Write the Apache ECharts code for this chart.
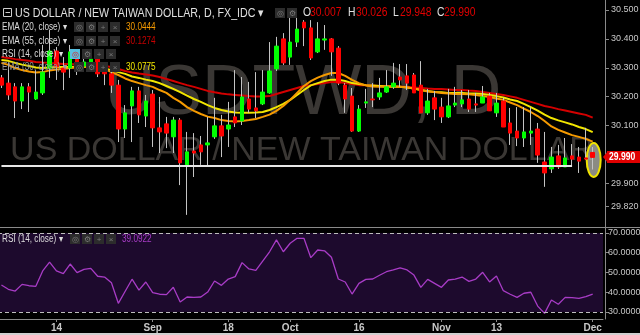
<!DOCTYPE html>
<html><head><meta charset="utf-8">
<script src="https://cdn.jsdelivr.net/npm/echarts@6/dist/echarts.min.js"></script>
<style>html,body{margin:0;padding:0;background:#000;}#c{width:640px;height:335px;}</style>
</head><body><div id="c"></div>
<script>
// ---- data ----
const dates = ['08-02','08-03','08-04','08-07','08-08','08-09','08-10','08-11','08-14','08-15','08-16','08-17','08-18','08-21','08-22','08-23','08-24','08-25','08-28','08-29','08-30','08-31','09-01','09-04','09-05','09-06','09-07','09-08','09-11','09-12','09-13','09-14','09-15','09-18','09-19','09-20','09-21','09-22','09-25','09-26','09-27','09-28','10-02','10-03','10-04','10-05','10-06','10-09','10-10','10-11','10-12','10-13','10-16','10-17','10-18','10-19','10-20','10-23','10-24','10-25','10-26','10-27','10-30','10-31','11-01','11-02','11-03','11-06','11-07','11-08','11-09','11-10','11-13','11-14','11-15','11-16','11-17','11-20','11-21','11-22','11-23','11-24','11-27','11-28','11-29','11-30','12-01'];
const tickLabels = {'08-14':'14','09-01':'Sep','09-18':'18','10-02':'Oct','10-16':'16','11-01':'Nov','11-13':'13','12-01':'Dec'};
// [open, close, low, high]
const ohlc = [
[30.265,30.240,30.230,30.275],[30.247,30.206,30.189,30.317],[30.234,30.185,30.126,30.247],[30.185,30.234,30.157,30.247],[30.234,30.216,30.147,30.247],
[30.192,30.216,30.189,30.292],[30.213,30.285,30.206,30.379],[30.299,30.358,30.265,30.431],[30.358,30.303,30.258,30.372],[30.299,30.285,30.223,30.337],
[30.299,30.355,30.265,30.379],[30.330,30.296,30.275,30.351],[30.306,30.320,30.292,30.334],[30.317,30.330,30.292,30.337],[30.330,30.279,30.268,30.337],
[30.306,30.279,30.240,30.317],[30.279,30.240,30.213,30.303],[30.240,30.088,30.043,30.258],[30.088,30.144,30.057,30.171],[30.168,30.220,30.043,30.234],
[30.220,30.137,30.109,30.234],[30.133,30.185,30.095,30.206],[30.209,30.092,30.026,30.223],[30.092,30.078,30.005,30.199],[30.106,30.074,30.022,30.130],
[30.061,30.119,30.005,30.130],[30.119,29.971,29.894,30.126],[29.964,30.009,29.791,30.078],[30.012,30.005,29.922,30.074],[30.033,30.009,29.964,30.064],
[30.033,30.040,29.957,30.130],[30.061,30.099,30.054,30.196],[30.099,30.064,29.991,30.137],[30.088,30.102,30.026,30.182],[30.130,30.109,30.095,30.292],
[30.116,30.199,30.102,30.268],[30.192,30.157,30.144,30.251],[30.161,30.151,30.126,30.285],[30.175,30.216,30.171,30.292],[30.213,30.289,30.210,30.389],
[30.296,30.375,30.289,30.407],[30.400,30.317,30.310,30.420],[30.337,30.389,30.310,30.490],[30.389,30.434,30.372,30.483],[30.458,30.438,30.375,30.465],
[30.438,30.334,30.327,30.465],[30.355,30.400,30.351,30.458],[30.396,30.400,30.362,30.448],[30.400,30.355,30.272,30.403],[30.368,30.247,30.240,30.375],
[30.240,30.192,30.144,30.247],[30.202,30.081,30.078,30.230],[30.081,30.157,30.078,30.171],[30.178,30.182,30.161,30.227],[30.192,30.189,30.164,30.247],
[30.199,30.213,30.189,30.265],[30.216,30.234,30.213,30.292],[30.234,30.247,30.227,30.317],[30.268,30.258,30.234,30.313],[30.272,30.247,30.223,30.313],
[30.275,30.213,30.213,30.282],[30.240,30.144,30.144,30.323],[30.144,30.185,30.137,30.227],[30.196,30.157,30.119,30.220],[30.164,30.130,30.109,30.196],
[30.130,30.168,30.126,30.227],[30.171,30.178,30.164,30.234],[30.175,30.189,30.164,30.223],[30.192,30.157,30.147,30.223],[30.175,30.171,30.147,30.213],
[30.178,30.199,30.178,30.237],[30.202,30.151,30.151,30.213],[30.144,30.178,30.130,30.213],[30.185,30.095,30.095,30.196],[30.109,30.074,30.033,30.161],
[30.081,30.057,30.029,30.164],[30.057,30.078,30.026,30.164],[30.074,30.081,30.033,30.164],[30.088,29.998,29.971,30.109],[29.974,29.936,29.888,30.078],
[29.950,29.991,29.936,30.026],[29.995,29.957,29.950,30.033],[29.957,29.988,29.957,30.057],[29.995,29.984,29.957,30.036],[29.991,29.977,29.936,30.026],
[29.988,29.984,29.981,30.092],[30.007,29.990,29.948,30.026]
];
const ema20 = [30.317,30.310,30.299,30.292,30.287,30.284,30.285,30.291,30.294,30.296,
30.299,30.301,30.303,30.303,30.301,30.296,30.285,30.275,30.263,30.254,
30.247,30.240,30.234,30.223,30.213,30.196,30.182,30.164,30.151,30.140,
30.131,30.126,30.119,30.116,30.114,30.116,30.119,30.123,30.130,30.138,
30.151,30.168,30.189,30.213,30.237,30.254,30.266,30.275,30.282,30.282,
30.272,30.258,30.247,30.239,30.235,30.234,30.234,30.235,30.234,30.232,
30.228,30.223,30.218,30.216,30.213,30.211,30.209,30.209,30.208,30.206,
30.202,30.199,30.194,30.189,30.180,30.171,30.159,30.147,30.133,30.116,
30.097,30.085,30.076,30.067,30.061,30.054,30.0444];
const ema30 = [30.327,30.324,30.317,30.311,30.306,30.301,30.299,30.301,30.303,30.303,
30.303,30.304,30.304,30.304,30.303,30.298,30.292,30.285,30.279,30.270,
30.265,30.259,30.254,30.247,30.237,30.227,30.216,30.204,30.192,30.182,
30.171,30.161,30.154,30.149,30.145,30.144,30.144,30.145,30.147,30.154,
30.164,30.175,30.189,30.206,30.223,30.239,30.247,30.254,30.259,30.259,
30.254,30.247,30.244,30.240,30.239,30.237,30.235,30.235,30.234,30.232,
30.228,30.223,30.220,30.216,30.215,30.213,30.213,30.213,30.211,30.211,
30.209,30.206,30.202,30.197,30.190,30.185,30.175,30.164,30.152,30.138,
30.126,30.118,30.111,30.104,30.095,30.088,30.0775];
const ema55 = [30.337,30.334,30.330,30.327,30.324,30.320,30.318,30.317,30.315,30.313,
30.313,30.311,30.310,30.310,30.308,30.306,30.303,30.296,30.289,30.284,
30.280,30.277,30.273,30.268,30.261,30.254,30.247,30.240,30.234,30.227,
30.220,30.215,30.211,30.208,30.206,30.204,30.202,30.201,30.201,30.202,
30.209,30.216,30.223,30.230,30.237,30.240,30.244,30.247,30.251,30.251,
30.247,30.244,30.240,30.240,30.239,30.237,30.237,30.235,30.234,30.234,
30.232,30.230,30.228,30.227,30.227,30.225,30.223,30.223,30.221,30.220,
30.216,30.213,30.209,30.206,30.201,30.196,30.189,30.182,30.175,30.168,
30.163,30.157,30.152,30.147,30.142,30.137,30.1274];
const rsi = [43.7,41.5,40.6,44.0,43.3,43.0,50.8,55.3,50.8,49.4,
54.3,49.9,51.6,52.1,48.1,47.7,44.8,34.4,40.5,46.6,
41.1,45.2,39.8,39.0,38.8,42.5,35.1,37.6,37.4,37.6,
40.1,45.7,43.5,46.7,47.9,55.0,51.8,51.1,55.8,60.5,
66.5,60.5,64.8,67.3,67.3,57.5,61.4,61.0,57.7,46.7,
45.2,39.1,44.5,46.5,46.7,48.6,50.4,51.3,52.4,51.3,
48.7,42.5,46.5,44.5,42.5,46.2,46.7,47.7,45.5,46.7,
50.1,45.2,48.2,40.8,39.0,37.4,39.5,40.0,33.0,29.3,
36.1,33.9,37.4,37.3,36.9,37.8,39.0922];
const priceTicks = [29.82, 29.9, 30.1, 30.2, 30.3, 30.4, 30.5];
const rsiTicks = [30, 40, 50, 60, 70];
const rsiBand = [30, 70];
const supportLevel = 29.960;
const supportEndIndex = 83;
const last = {open:'30.007', high:'30.026', low:'29.948', close:'29.990'};
const legendValues = {ema20:'30.0444', ema55:'30.1274', ema30:'30.0775', rsi:'39.0922'};

// ---- chart ----
const FN = "'Liberation Sans',Arial,sans-serif";
const GRID = '#8a8a8a', LBL = '#c8c8c8';
const cats = dates.concat(['pad']);
const bodies = ohlc.map(d => [d[0], d[1], Math.min(d[0], d[1]), Math.max(d[0], d[1])]);
const showTick = (i, v) => !!tickLabels[v];

const chart = echarts.init(document.getElementById('c'));
chart.setOption({
  animation: false,
  backgroundColor: '#000',
  grid: [
    {left: -2, right: 37, top: 0, height: 227, outerBoundsMode: 'none'},
    {left: -2, right: 37, top: 228, height: 91, outerBoundsMode: 'none'}
  ],
  xAxis: [
    {type: 'category', gridIndex: 0, data: cats, boundaryGap: true, show: false},
    {type: 'category', gridIndex: 1, data: cats, boundaryGap: true,
     axisLine: {show: true, lineStyle: {color: GRID, width: 1}},
     axisTick: {show: true, alignWithLabel: true, interval: showTick, length: 3, lineStyle: {color: GRID}},
     axisLabel: {show: true, interval: showTick, formatter: v => tickLabels[v] || '', color: LBL,
                 fontSize: 10, fontWeight: 'bold', fontFamily: FN, margin: 4},
     splitLine: {show: false}}
  ],
  yAxis: [
    {type: 'value', gridIndex: 0, position: 'right', offset: 2, min: 29.749, max: 30.5346, scale: true,
     axisLine: {show: true, lineStyle: {color: GRID}},
     axisTick: {show: true, customValues: priceTicks, length: 4, lineStyle: {color: GRID}},
     axisLabel: {show: true, customValues: priceTicks, formatter: v => v.toFixed(3), color: LBL, fontSize: 9, fontFamily: FN, margin: 6},
     splitLine: {show: false}},
    {type: 'value', gridIndex: 1, position: 'right', offset: 2, min: 26.46, max: 72.53,
     axisLine: {show: true, lineStyle: {color: GRID}},
     axisTick: {show: true, customValues: rsiTicks, length: 4, lineStyle: {color: GRID}},
     axisLabel: {show: true, customValues: rsiTicks, formatter: v => v.toFixed(4), color: LBL, fontSize: 9, fontFamily: FN, margin: 3},
     splitLine: {show: false}}
  ],
  series: [
    {type: 'line', name: 'EMA55', xAxisIndex: 0, yAxisIndex: 0, data: ema55, symbol: 'none', z: 2,
     lineStyle: {color: '#d40000', width: 2}},
    {type: 'line', name: 'EMA30', xAxisIndex: 0, yAxisIndex: 0, data: ema30, symbol: 'none', z: 2,
     lineStyle: {color: '#f2e600', width: 2}},
    {type: 'line', name: 'EMA20', xAxisIndex: 0, yAxisIndex: 0, data: ema20, symbol: 'none', z: 2,
     lineStyle: {color: '#f59a00', width: 2}},
    {type: 'candlestick', name: 'wick', xAxisIndex: 0, yAxisIndex: 0, data: ohlc, barWidth: 1, z: 3,
     itemStyle: {color: '#c4c4c4', color0: '#c4c4c4', borderColor: '#c4c4c4', borderColor0: '#c4c4c4', borderColorDoji: '#c4c4c4', borderWidth: 1}},
    {type: 'candlestick', name: 'body', xAxisIndex: 0, yAxisIndex: 0, data: bodies, barWidth: 4, z: 3,
     itemStyle: {color: '#00ff00', color0: '#ff0000', borderColor: '#00ff00', borderColor0: '#ff0000', borderColorDoji: '#ff0000', borderWidth: 1},
     markLine: {silent: true, symbol: ['none', 'none'], label: {show: false},
       lineStyle: {color: '#e6e6e6', width: 2, type: 'solid'},
       data: [[{coord: [dates[0], supportLevel]}, {coord: [dates[supportEndIndex], supportLevel]}]]}},
    {type: 'line', name: 'RSI', xAxisIndex: 1, yAxisIndex: 1, data: rsi, symbol: 'none', z: 3,
     lineStyle: {color: '#a83cc6', width: 1.3},
     markArea: {silent: true, itemStyle: {color: '#1d0a2d'}, data: [[{yAxis: rsiBand[0]}, {yAxis: rsiBand[1]}]]},
     markLine: {silent: true, symbol: ['none', 'none'], label: {show: false},
       lineStyle: {color: '#bdbdbd', width: 1, type: [4, 3]},
       data: [{yAxis: rsiBand[0]}, {yAxis: rsiBand[1]}]}}
  ]
});

// ---- annotations / legend ----
function txt(x, y, text, size, color, o) {
  o = o || {};
  return {type: 'text', silent: true, z: o.z == null ? 5 : o.z, x: x, y: y, scaleX: o.sx || 1,
    style: {x: 0, y: 0, text: text, fill: color, align: o.align || 'left', verticalAlign: 'middle',
            font: (o.weight || 'normal') + ' ' + size + 'px ' + FN}};
}
function box(x, y, sym, fill, symColor) {
  return [
    {type: 'rect', silent: true, z: 5, shape: {x: x, y: y, width: 10, height: 10}, style: {fill: fill || '#2c2c2c'}},
    txt(x + 5, y + 5.5, sym, 8, symColor || '#7a7a7a', {align: 'center'})
  ];
}
const g = [];
// watermark
g.push(txt(303, 95, 'USDTWD, D', 70, '#3a3734', {align: 'center', z: 0}));
g.push(txt(302, 151, 'US DOLLAR / NEW TAIWAN DOLLAR', 34, '#3a3734', {align: 'center', z: 0}));
// title row
g.push({type: 'rect', silent: true, z: 5, shape: {x: 3.5, y: 8.5, width: 8, height: 8}, style: {fill: 'none', stroke: '#cfcfcf', lineWidth: 1}});
g.push({type: 'line', silent: true, z: 5, shape: {x1: 5.5, y1: 12.5, x2: 10, y2: 12.5}, style: {stroke: '#cfcfcf', lineWidth: 1}});
g.push(txt(15, 13, 'US DOLLAR / NEW TAIWAN DOLLAR, D, FX_IDC \u25BE', 13, '#e0e0e0', {sx: 0.82}));
g.push(...box(275, 8, '\u25CE'), ...box(287, 8, '\u2699'));
const SX = 0.86;
g.push(txt(303, 13, 'O', 12, '#e0e0e0', {sx: SX}), txt(310, 13, last.open, 12, '#e00000', {sx: SX}));
g.push(txt(348, 13, 'H', 12, '#e0e0e0', {sx: SX}), txt(356, 13, last.high, 12, '#e00000', {sx: SX}));
g.push(txt(393, 13, 'L', 12, '#e0e0e0', {sx: SX}), txt(400, 13, last.low, 12, '#e00000', {sx: SX}));
g.push(txt(437, 13, 'C', 12, '#e0e0e0', {sx: SX}), txt(444, 13, last.close, 12, '#e00000', {sx: SX}));
// indicator rows
const rows = [
  {y: 27, name: 'EMA (20, close) \u25BE', val: legendValues.ema20, col: '#f59a00'},
  {y: 41, name: 'EMA (55, close) \u25BE', val: legendValues.ema55, col: '#c80000'},
  {y: 54, name: 'RSI (14, close) \u25BE', val: null, col: null, hl: true},
  {y: 67, name: 'EMA (30, close) \u25BE', val: legendValues.ema30, col: '#f2e600', dim: true}
];
rows.forEach(r => {
  g.push(txt(2, r.y, r.name, 10, r.dim ? '#9a9a9a' : '#dcdcdc', {sx: 0.82}));
  if (r.hl) {
    g.push(...box(70, r.y - 5, '\u25CE', '#58bfe0', '#e02020'), ...box(82, r.y - 5, '\u2699'), ...box(94, r.y - 5, '+'), ...box(106, r.y - 5, '\u00D7'));
  } else {
    g.push(...box(74, r.y - 5, '\u25CE'), ...box(86, r.y - 5, '\u2699'), ...box(98, r.y - 5, '+'), ...box(110, r.y - 5, '\u00D7'));
  }
  if (r.val) g.push(txt(126, r.y, r.val, 10, r.col, {sx: 0.82}));
});
// RSI legend
g.push(txt(2, 239, 'RSI (14, close) \u25BE', 10, '#dcdcdc', {sx: 0.82}));
g.push(...box(70, 234, '\u25CE'), ...box(82, 234, '\u2699'), ...box(94, 234, '+'), ...box(106, 234, '\u00D7'));
g.push(txt(122, 239, legendValues.rsi, 10, '#a83cc6', {sx: 0.82}));
// separators
g.push({type: 'line', silent: true, z: 6, shape: {x1: 0, y1: 227.5, x2: 640, y2: 227.5}, style: {stroke: GRID, lineWidth: 1}});
g.push({type: 'rect', silent: true, z: 6, shape: {x: 0, y: 333, width: 640, height: 2}, style: {fill: '#d0d0d0'}});
// highlight ellipse on last bar
const lastIdx = ohlc.length - 1;
const ec = chart.convertToPixel({xAxisIndex: 0, yAxisIndex: 0}, [dates[lastIdx], (ohlc[lastIdx][2] + ohlc[lastIdx][3]) / 2 - 0.006]);
g.push({type: 'ellipse', silent: true, z: 1, shape: {cx: ec[0] + 1, cy: ec[1], rx: 7, ry: 17},
        style: {fill: 'rgba(185,185,175,0.75)', stroke: '#f0e400', lineWidth: 2}});
// last price tag
const pc = chart.convertToPixel({xAxisIndex: 0, yAxisIndex: 0}, [dates[lastIdx], ohlc[lastIdx][1]]);
const ty = Math.round(pc[1]);
g.push({type: 'polygon', silent: true, z: 7, shape: {points: [[603, ty], [608, ty - 6], [608, ty + 6]]}, style: {fill: '#e00000'}});
g.push({type: 'rect', silent: true, z: 7, shape: {x: 607, y: ty - 6, width: 33, height: 12}, style: {fill: '#e00000'}});
g.push(txt(609, ty + 0.5, ohlc[lastIdx][1].toFixed(3), 10, '#ffffff', {weight: 'bold', z: 8, sx: 0.86}));
chart.setOption({graphic: g});
</script>
</body></html>
